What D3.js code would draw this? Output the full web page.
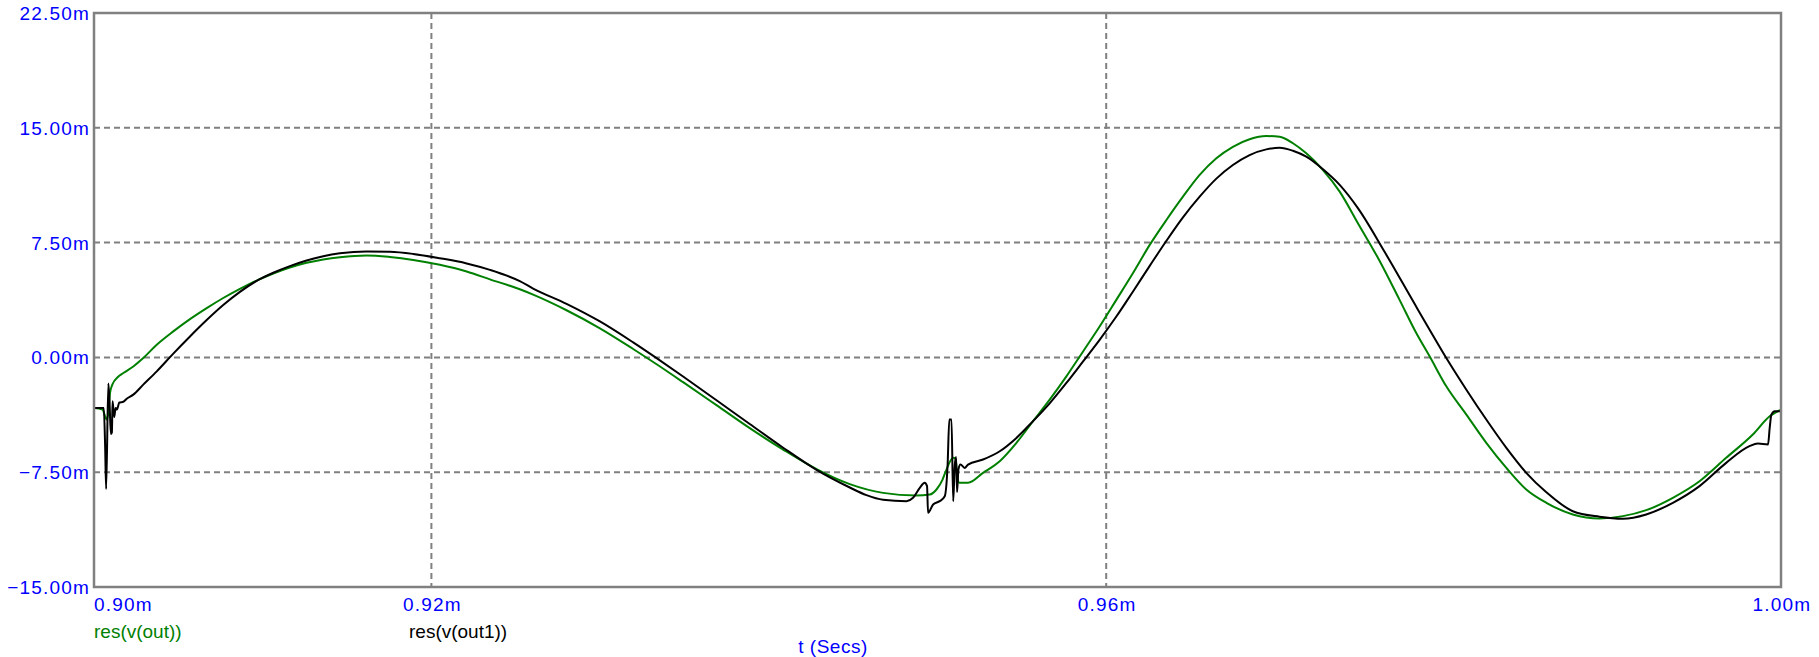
<!DOCTYPE html>
<html>
<head>
<meta charset="utf-8">
<script src="https://cdn.jsdelivr.net/npm/d3@7"></script>
<style>
  html, body { margin: 0; padding: 0; background: #ffffff; }
  svg { display: block; }
  .tick-label { font-family: "Liberation Sans", Arial, sans-serif; font-size: 19px; fill: #0000ff; letter-spacing: 1.2px; }
  .legend { font-family: "Liberation Sans", Arial, sans-serif; font-size: 19px; }
</style>
</head>
<body>
<svg id="chart" width="1819" height="657"></svg>
<script>
// ---- data (time in ms, value in mV) ----
const seriesNames = ["res(v(out))", "res(v(out1))"];
const seriesColors = ["#008000", "#000000"];

const outTime = [0.90000,0.90050,0.90075,0.90085,0.90095,0.90110,0.90140,0.90174,0.90233,0.90292,0.90372,0.90470,0.90569,0.90668,0.90766,0.90865,0.90964,0.91063,0.91161,0.91260,0.91359,0.91458,0.91616,0.91754,0.91892,0.92050,0.92209,0.92347,0.92524,0.92603,0.92801,0.92999,0.93196,0.93335,0.93492,0.93690,0.93887,0.94085,0.94283,0.94480,0.94677,0.94875,0.94954,0.94994,0.95030,0.95049,0.95093,0.95107,0.95117,0.95129,0.95181,0.95270,0.95369,0.95468,0.95566,0.95665,0.95764,0.95863,0.95961,0.96060,0.96159,0.96258,0.96357,0.96455,0.96554,0.96653,0.96751,0.96850,0.96949,0.97028,0.97107,0.97186,0.97285,0.97384,0.97492,0.97621,0.97739,0.97838,0.97917,0.98016,0.98135,0.98253,0.98372,0.98490,0.98609,0.98766,0.98924,0.99063,0.99201,0.99359,0.99517,0.99675,0.99833,0.99933,1.00000];
const outValue = [-3.30,-3.40,-4.06,-3.60,-2.32,-1.75,-1.30,-1.02,-0.59,-0.04,0.83,1.70,2.50,3.22,3.88,4.48,5.02,5.48,5.87,6.18,6.40,6.55,6.66,6.56,6.37,6.05,5.61,5.10,4.45,4.10,3.08,1.90,0.55,-0.45,-1.62,-3.12,-4.62,-6.02,-7.30,-8.28,-8.85,-9.02,-8.96,-8.63,-7.98,-7.44,-6.56,-6.62,-7.70,-8.19,-8.19,-7.54,-6.78,-5.58,-4.17,-2.76,-1.24,0.39,2.02,3.76,5.51,7.35,8.98,10.50,11.92,13.01,13.76,14.25,14.46,14.42,13.99,13.33,12.24,10.83,8.77,6.30,3.76,1.59,0.07,-1.89,-3.74,-5.58,-7.22,-8.63,-9.50,-10.26,-10.52,-10.37,-9.98,-9.17,-8.09,-6.56,-5.04,-3.85,-3.41];

const out1Time = [0.90000,0.90058,0.90066,0.90072,0.90085,0.90092,0.90100,0.90106,0.90110,0.90120,0.90128,0.90136,0.90150,0.90174,0.90194,0.90233,0.90292,0.90372,0.90470,0.90569,0.90668,0.90766,0.90865,0.90964,0.91063,0.91161,0.91260,0.91359,0.91458,0.91616,0.91754,0.91892,0.92050,0.92209,0.92347,0.92524,0.92603,0.92801,0.92999,0.93196,0.93335,0.93492,0.93690,0.93887,0.94085,0.94283,0.94480,0.94579,0.94677,0.94816,0.94855,0.94895,0.94924,0.94938,0.94944,0.94974,0.95013,0.95043,0.95060,0.95070,0.95083,0.95093,0.95102,0.95110,0.95116,0.95124,0.95136,0.95161,0.95181,0.95270,0.95369,0.95468,0.95566,0.95665,0.95764,0.95863,0.95961,0.96060,0.96159,0.96258,0.96357,0.96455,0.96554,0.96653,0.96751,0.96850,0.96949,0.97028,0.97107,0.97186,0.97285,0.97384,0.97492,0.97650,0.97828,0.97917,0.98016,0.98135,0.98253,0.98372,0.98490,0.98609,0.98766,0.98924,0.99063,0.99201,0.99359,0.99517,0.99675,0.99813,0.99863,0.99923,0.99933,0.99943,0.99963,1.00000];
const out1Value = [-3.30,-3.30,-5.80,-8.60,-1.70,-2.90,-5.00,-4.90,-2.87,-3.90,-3.30,-3.40,-2.95,-2.90,-2.70,-2.43,-1.78,-0.91,0.25,1.37,2.44,3.42,4.28,5.00,5.53,5.96,6.33,6.61,6.80,6.92,6.90,6.76,6.48,6.14,5.72,4.98,4.50,3.50,2.35,0.98,-0.05,-1.25,-2.80,-4.35,-5.90,-7.35,-8.50,-9.00,-9.30,-9.39,-9.17,-8.52,-8.19,-8.41,-10.15,-9.61,-9.39,-9.07,-7.00,-4.06,-4.06,-9.39,-7.11,-6.50,-8.80,-7.33,-7.00,-7.22,-7.00,-6.67,-6.13,-5.26,-4.17,-3.00,-1.67,-0.26,1.15,2.67,4.31,5.98,7.62,9.15,10.50,11.68,12.57,13.22,13.59,13.70,13.50,13.11,12.29,11.27,9.75,6.90,3.50,1.81,-0.04,-2.11,-4.06,-5.91,-7.54,-8.81,-10.05,-10.41,-10.54,-10.26,-9.50,-8.41,-6.89,-5.80,-5.63,-5.69,-4.61,-3.74,-3.52,-3.52];

const xDomain = [0.90, 1.00];
const yDomain = [-15, 22.5];
const xTicks = [0.90, 0.92, 0.96, 1.00];
const xGrid = [0.92, 0.96];
const yTicks = [-15, -7.5, 0, 7.5, 15, 22.5];
const yGrid = [-7.5, 0, 7.5, 15];
const xAxisTitle = "t (Secs)";

// ---- layout ----
const plotLeft = 94, plotRight = 1781, plotTop = 13, plotBottom = 587;

const svg = d3.select("#chart");
const x = d3.scaleLinear().domain(xDomain).range([plotLeft, plotRight]);
const y = d3.scaleLinear().domain(yDomain).range([plotBottom, plotTop]);

// grid
const grid = svg.append("g").attr("stroke", "#808080").attr("stroke-width", 2).attr("stroke-dasharray", "6,4");
grid.selectAll("line.h").data(yGrid).enter().append("line")
  .attr("x1", plotLeft).attr("x2", plotRight).attr("y1", d => y(d)).attr("y2", d => y(d));
grid.selectAll("line.v").data(xGrid).enter().append("line")
  .attr("y1", plotTop).attr("y2", plotBottom).attr("x1", d => x(d)).attr("x2", d => x(d));

// series
const series = [
  { name: seriesNames[0], color: seriesColors[0], pts: outTime.map((t, i) => [t, outValue[i]]) },
  { name: seriesNames[1], color: seriesColors[1], pts: out1Time.map((t, i) => [t, out1Value[i]]) }
];
const line = d3.line().x(d => x(d[0])).y(d => y(d[1])).curve(d3.curveMonotoneX);
svg.append("g").selectAll("path").data(series).enter().append("path")
  .attr("d", d => line(d.pts))
  .attr("fill", "none")
  .attr("stroke", d => d.color)
  .attr("stroke-width", 2)
  .attr("stroke-linejoin", "miter");

// frame
svg.append("rect").attr("x", plotLeft).attr("y", plotTop).attr("width", plotRight - plotLeft).attr("height", plotBottom - plotTop)
  .attr("fill", "none").attr("stroke", "#808080").attr("stroke-width", 2.5);

// y tick labels
const fmt = d3.format(".2f");
svg.append("g").selectAll("text").data(yTicks).enter().append("text")
  .attr("class", "tick-label")
  .attr("x", 90).attr("y", d => y(d) + 7)
  .attr("text-anchor", "end")
  .text(d => fmt(d) + "m");

// x tick labels
svg.append("g").selectAll("text").data(xTicks).enter().append("text")
  .attr("class", "tick-label")
  .attr("x", (d, i) => i === 0 ? x(d) : x(d) + 1)
  .attr("y", 611)
  .attr("text-anchor", (d, i) => i === 0 ? "start" : "middle")
  .text(d => fmt(d) + "m");

// legend
const legendX = [94, 409];
svg.append("g").selectAll("text").data(series).enter().append("text")
  .attr("class", "legend")
  .attr("x", (d, i) => legendX[i]).attr("y", 638)
  .attr("fill", d => d.color)
  .text(d => d.name);

// axis title
svg.append("text").attr("class", "tick-label")
  .attr("x", 833).attr("y", 653).attr("text-anchor", "middle")
  .style("letter-spacing", "0.5px")
  .text(xAxisTitle);
</script>
</body>
</html>
